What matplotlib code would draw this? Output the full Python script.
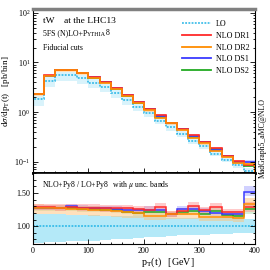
import numpy as np
import matplotlib; matplotlib.use("Agg")
import matplotlib.pyplot as plt
from matplotlib.ticker import MultipleLocator, FixedLocator, LogLocator, NullFormatter

plt.rcParams["font.family"] = ["Liberation Serif", "DejaVu Serif"]
plt.rcParams["mathtext.fontset"] = "stix"

# pT(t) bins [GeV]
edges = np.arange(0, 420, 20)

# LO+Py8 cross section per bin [pb/bin]
lo = np.array([1.8, 4.25, 5.55, 5.5, 4.8, 3.93, 3.17, 2.4, 1.75, 1.28,
               0.94, 0.67, 0.50, 0.37, 0.26, 0.205, 0.145, 0.11, 0.084, 0.066])
lo_dn = np.array([0.75, 0.76, 0.76, 0.77, 0.77, 0.78, 0.79, 0.80, 0.81, 0.82,
                  0.83, 0.84, 0.85, 0.86, 0.86, 0.87, 0.88, 0.88, 0.89, 0.89])
lo_up = np.array([1.18, 1.18, 1.18, 1.17, 1.17, 1.17, 1.16, 1.16, 1.15, 1.15,
                  1.14, 1.14, 1.13, 1.13, 1.13, 1.12, 1.12, 1.12, 1.12, 1.11])

# NLO / LO ratios with scale-uncertainty bands
dr1 = [1.29, 1.29, 1.28, 1.29, 1.28, 1.28, 1.27, 1.27, 1.27, 1.26, 1.25, 1.29, 1.18, 1.23, 1.30, 1.24, 1.29, 1.21, 1.21, 1.29]
dr1_dn = [1.24, 1.24, 1.23, 1.24, 1.23, 1.23, 1.22, 1.22, 1.22, 1.21, 1.20, 1.23, 1.14, 1.18, 1.24, 1.19, 1.23, 1.16, 1.16, 1.22]
dr1_up = [1.34, 1.34, 1.33, 1.34, 1.33, 1.33, 1.32, 1.32, 1.32, 1.31, 1.30, 1.35, 1.23, 1.28, 1.36, 1.29, 1.35, 1.26, 1.26, 1.36]

dr2 = [1.28, 1.27, 1.27, 1.26, 1.26, 1.25, 1.24, 1.23, 1.22, 1.20, 1.16, 1.16, 1.18, 1.18, 1.18, 1.14, 1.14, 1.14, 1.13, 1.34]
dr2_dn = [1.18, 1.18, 1.18, 1.17, 1.17, 1.16, 1.15, 1.14, 1.13, 1.12, 1.09, 1.09, 1.11, 1.11, 1.11, 1.08, 1.08, 1.08, 1.07, 1.26]
dr2_up = [1.33, 1.32, 1.32, 1.31, 1.31, 1.30, 1.29, 1.28, 1.27, 1.25, 1.21, 1.21, 1.23, 1.23, 1.23, 1.19, 1.19, 1.19, 1.18, 1.42]

ds1 = [1.28, 1.28, 1.28, 1.30, 1.28, 1.27, 1.27, 1.26, 1.25, 1.24, 1.25, 1.24, 1.18, 1.26, 1.26, 1.23, 1.20, 1.19, 1.19, 1.52]
ds1_dn = [1.24, 1.24, 1.24, 1.26, 1.24, 1.23, 1.23, 1.22, 1.21, 1.20, 1.21, 1.20, 1.14, 1.22, 1.22, 1.19, 1.16, 1.15, 1.15, 1.45]
ds1_up = [1.32, 1.32, 1.32, 1.34, 1.32, 1.31, 1.31, 1.30, 1.29, 1.28, 1.30, 1.28, 1.22, 1.30, 1.30, 1.27, 1.24, 1.23, 1.23, 1.61]

ds2 = [1.27, 1.27, 1.27, 1.27, 1.26, 1.26, 1.25, 1.24, 1.22, 1.20, 1.21, 1.21, 1.18, 1.21, 1.23, 1.19, 1.23, 1.17, 1.16, 1.26]
ds2_dn = [1.23, 1.23, 1.23, 1.23, 1.22, 1.22, 1.21, 1.20, 1.18, 1.16, 1.17, 1.17, 1.14, 1.17, 1.19, 1.15, 1.19, 1.13, 1.12, 1.18]
ds2_up = [1.31, 1.31, 1.31, 1.31, 1.30, 1.30, 1.29, 1.28, 1.26, 1.24, 1.25, 1.25, 1.22, 1.25, 1.27, 1.23, 1.27, 1.21, 1.20, 1.32]

labels = ["NLO DR1", "NLO DR2", "NLO DS1", "NLO DS2"]
colors = ["#ff2a2a", "#ff8c00", "#3a3aff", "#22aa22"]
band_colors = ["#ff8a8a", "#ffc27a", "#8c8cff", "#8fd68f"]
band_alpha = [0.45, 0.5, 0.4, 0.35]
nlo = [(dr1, dr1_dn, dr1_up), (dr2, dr2_dn, dr2_up), (ds1, ds1_dn, ds1_up), (ds2, ds2_dn, ds2_up)]
lo_col, lo_band = "#22b4e6", "#b4e9f8"

fig = plt.figure(figsize=(2.7, 2.7), dpi=100)
ax1 = fig.add_axes([0.122, 0.359, 0.822, 0.608])
ax2 = fig.add_axes([0.122, 0.096, 0.822, 0.263])

# upper panel
ax1.stairs(lo * lo_up, edges, baseline=lo * lo_dn, fill=True, color=lo_band, alpha=0.5, lw=0)
for i in [3, 2, 1, 0]:
    c, dn, up = (np.array(a) for a in nlo[i])
    ax1.stairs(lo * up, edges, baseline=lo * dn, fill=True, color=band_colors[i], alpha=band_alpha[i], lw=0)
ax1.stairs(lo, edges, baseline=1e-4, color=lo_col, lw=1.1, ls=(0, (1.2, 0.9)), label="LO")
for i in [3, 2, 0, 1]:
    ax1.stairs(lo * np.array(nlo[i][0]), edges, baseline=1e-4, color=colors[i], lw=1.2)
ax1.set_yscale("log")
ax1.set_ylim(0.059, 120)
ax1.set_xlim(0, 400)
ax1.set_xticklabels([])

# lower panel: ratio to LO
ax2.stairs(lo_up, edges, baseline=lo_dn, fill=True, color=lo_band, lw=0)
for i in [3, 2, 1, 0]:
    c, dn, up = (np.array(a) for a in nlo[i])
    ax2.stairs(up, edges, baseline=dn, fill=True, color=band_colors[i], alpha=band_alpha[i], lw=0)
ax2.stairs(lo / lo, edges, baseline=None, color=lo_col, lw=1.1, ls=(0, (1.2, 0.9)))
for i in [3, 2, 0, 1]:
    ax2.stairs(nlo[i][0], edges, baseline=None, color=colors[i], lw=1.1)
ax2.set_xlim(0, 400)
ax2.set_ylim(0.73, 1.8)
ax2.yaxis.set_major_locator(FixedLocator([1.0, 1.5]))
ax2.yaxis.set_minor_locator(MultipleLocator(0.1))
ax2.set_yticklabels(["1.00", "1.50"])
ax2.xaxis.set_major_locator(MultipleLocator(100))
ax1.xaxis.set_major_locator(MultipleLocator(100))
for ax in (ax1, ax2):
    ax.xaxis.set_minor_locator(MultipleLocator(20))
    ax.tick_params(which="both", direction="in", right=True, labelsize=5.8, width=0.6, pad=2)
    ax.tick_params(which="major", length=3.5)
    ax.tick_params(which="minor", length=1.8)
    for s in ax.spines.values():
        s.set_linewidth(0.8)
ax1.yaxis.set_major_locator(LogLocator(base=10, numticks=10))
ax1.yaxis.set_minor_locator(LogLocator(base=10, subs=np.arange(2, 10), numticks=10))
ax1.yaxis.set_minor_formatter(NullFormatter())
ax1.spines["top"].set_color("#808080")
ax1.spines["top"].set_linewidth(2.5)
ax1.spines["bottom"].set_linewidth(2.0)
ax2.spines["top"].set_linewidth(1.2)

# legend
handles = [plt.Line2D([], [], color=lo_col, lw=1.1, ls=(0, (1.2, 0.9)))]
handles += [plt.Line2D([], [], color=colors[i], lw=1.3) for i in range(4)]
ax1.legend(handles, ["LO"] + labels, loc="upper right", bbox_to_anchor=(1.0, 0.965),
           frameon=False, fontsize=5.8, handlelength=3.6, handletextpad=0.6,
           labelspacing=0.45, borderaxespad=0.3)

# texts
ax1.text(0.045, 0.925, "tW    at the LHC13", transform=ax1.transAxes, fontsize=6.8, va="center")
t1 = ax1.text(0.045, 0.84, "5FS (N)LO+P", transform=ax1.transAxes, fontsize=5.6, va="baseline")
t2 = ax1.annotate("YTHIA", xy=(1, 0), xycoords=t1, fontsize=4.4, va="bottom")
ax1.annotate("8", xy=(1, 0), xycoords=t2, fontsize=5.6, va="bottom")
ax1.text(0.045, 0.76, "Fiducial cuts", transform=ax1.transAxes, fontsize=5.6, va="center")
ax2.text(0.04, 0.83, r"NLO+Py8 / LO+Py8   with $\mu$ unc. bands", transform=ax2.transAxes,
         fontsize=5.6, va="center")
ax1.set_ylabel(r"d$\sigma$/dp$_{\rm T}$(t)   [pb/bin]", fontsize=6.6, labelpad=2)
fig.text(0.62, 1 - 262 / 270, r"p$_{\rm T}$(t)   [GeV]", fontsize=7.2, ha="center", va="center")
fig.text(0.975, 0.49, "MadGraph5_aMC@NLO", rotation=90, fontsize=5.6, ha="center", va="center")

fig.savefig("out.png", dpi=100)
